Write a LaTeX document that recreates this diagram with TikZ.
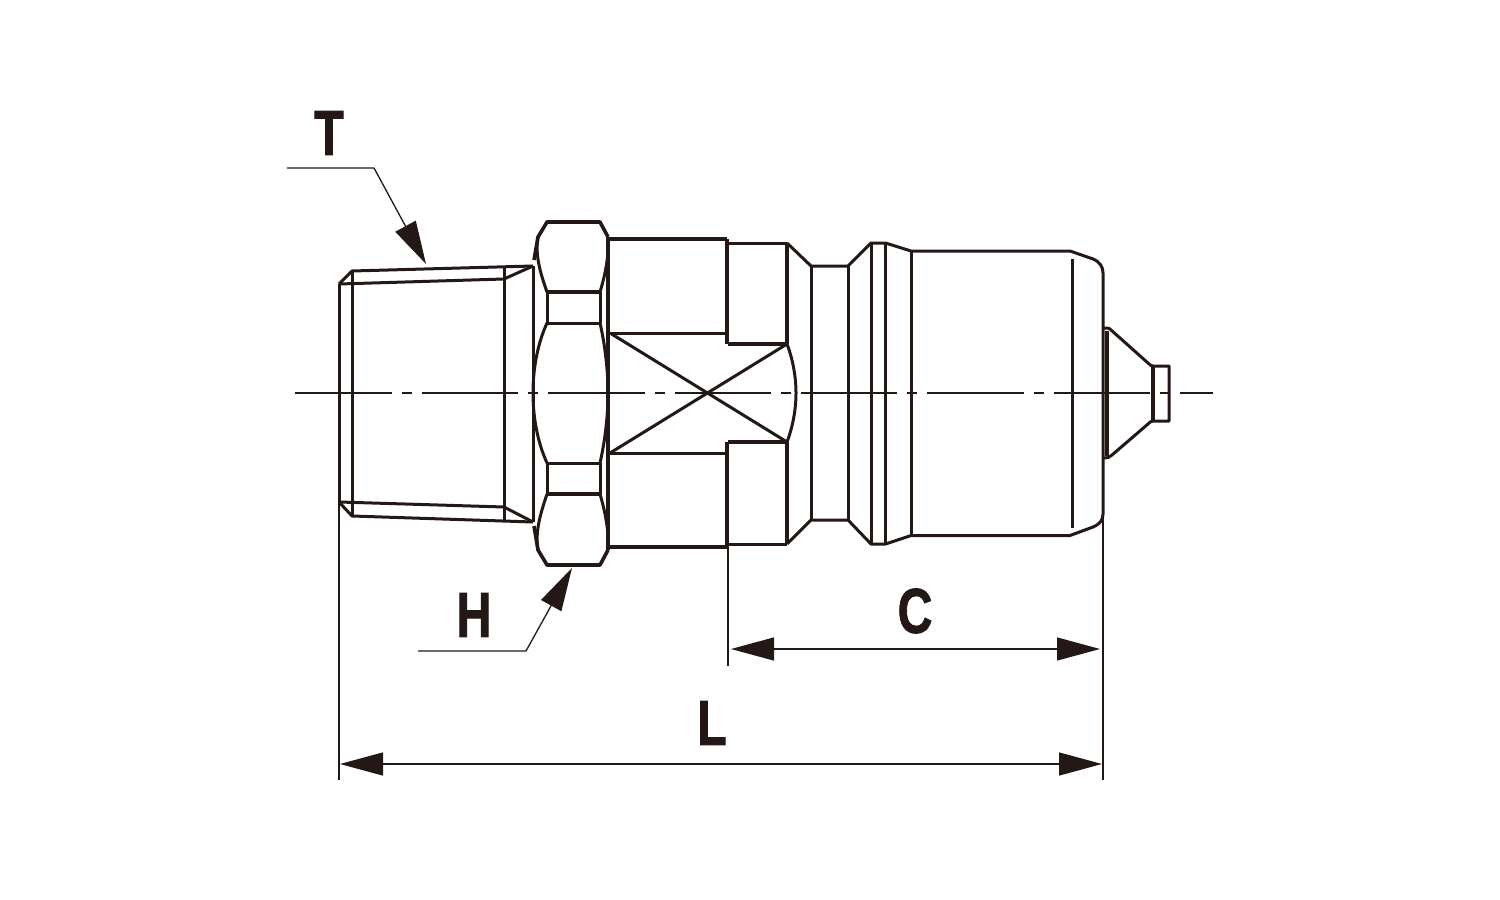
\documentclass[tikz,border=0pt]{standalone}
\usepackage{fontspec}
\setmainfont{Liberation Sans}[BoldFeatures={FakeBold=1.6}]
\usetikzlibrary{arrows.meta,positioning}
\definecolor{inkk}{HTML}{231815}
\tikzset{
  fine/.style={line width=0.3mm,line join=round},
  heavy/.style={line width=0.36mm,line join=round},
  dimline/.style={line width=0.13mm},
  dimarrow/.style={dimline,{Triangle[length=4.3mm,width=2.3mm]}-{Triangle[length=4.3mm,width=2.3mm]}},
  leader/.style={dimline,-{Triangle[length=4.3mm,width=2.3mm]}},
  axisline/.style={dimline,dash pattern=on 9.64mm off 1mm on 1mm off 1mm,dash phase=12.51mm},
  letter/.style={font=\bfseries\fontsize{18}{18}\selectfont,xscale=.76,inner sep=0pt,anchor=center}
}
\begin{document}
\begin{tikzpicture}[x=0.1mm,y=-0.1mm,color=inkk]
  \useasboundingbox (0,0) rectangle (1500,900);

  % thread
  \draw[fine] (339,284) -- (352,271) -- (533,266);
  \draw[fine] (339,284) -- (504,279) -- (533,266);
  \draw[fine] (339,502) -- (352,516) -- (533,522);
  \draw[fine] (339,502) -- (504,507) -- (533,522);
  \draw[fine] (339,284) -- (339,502);
  \draw[fine] (352,271) -- (352,516);
  \draw[fine] (504,267) -- (504,520);
  \draw[fine] (533,266) -- (533,522);

  % hexagon
  \draw[heavy] (534,260) -- (538,237) -- (547,222) -- (600,222) -- (608,237);
  \draw[heavy] (534,526) -- (538,550) -- (547,565) -- (600,565) -- (608,550);
  \draw[fine] (538,237) .. controls (535,255) and (540,272) .. (547,292);
  \draw[fine] (608,237) .. controls (609,255) and (606,272) .. (600,292);
  \draw[fine] (538,550) .. controls (535,532) and (540,515) .. (547,494);
  \draw[fine] (608,550) .. controls (609,532) and (606,515) .. (600,494);
  \draw[heavy] (547,292) -- (600,292);
  \draw[fine] (547,323) -- (600,323);
  \draw[fine] (547,463) -- (600,463);
  \draw[heavy] (547,494) -- (600,494);
  \draw[fine] (547,292) -- (547,323);
  \draw[fine] (600,292) -- (600,323);
  \draw[fine] (547,463) -- (547,494);
  \draw[fine] (600,463) -- (600,494);
  \draw[fine] (547,323) .. controls (537,345) and (533,370) .. (533,393) .. controls (533,416) and (537,441) .. (547,463);
  \draw[fine] (600,323) .. controls (605,345) and (608,370) .. (608,393) .. controls (608,416) and (605,441) .. (600,463);
  \draw[heavy] (608,237) -- (608,550);

  % body with flats
  \draw[heavy] (608,239) -- (727,239);
  \draw[heavy] (608,547) -- (727,547);
  \draw[fine] (610,333) -- (727,333);
  \draw[fine] (610,453) -- (727,453);
  \draw[line width=0.45mm] (727,239) -- (727,344);
  \draw[line width=0.45mm] (727,442) -- (727,547);
  \draw[fine] (728,243) -- (787,243);
  \draw[heavy] (728,344) -- (787,344);
  \draw[heavy] (728,442) -- (787,442);
  \draw[fine] (728,544) -- (787,544);
  \draw[heavy] (787,243) -- (787,344);
  \draw[heavy] (787,442) -- (787,544);
  \draw[fine] (610,333) -- (787,442);
  \draw[fine] (610,453) -- (787,344);
  \draw[fine] (787,344) .. controls (793,360) and (796,377) .. (796,393) .. controls (796,409) and (793,426) .. (787,442);

  % plug outline
  \draw[fine] (787,243) -- (811,266) -- (848,266) -- (871,243) -- (885.5,243) -- (911,251) -- (1070,251) -- (1093,259)
    .. controls (1100,262) and (1103,267) .. (1103,273) -- (1103,514)
    .. controls (1103,520) and (1100,524) .. (1093,527) -- (1070,535.5) -- (911,535.5) -- (885.5,544) -- (871,544) -- (848,520) -- (811,520) -- (787,544);
  \foreach \xpos/\ytop/\ybot in {811/266/520,848/266/520,871/243/544,885.5/243/544,911/251/535.5}
    \draw[fine] (\xpos,\ytop) -- (\xpos,\ybot);
  \draw[fine] (1072,259) -- (1072,528);

  % nose
  \draw[fine] (1103,328) -- (1107,328) .. controls (1109,328) and (1110,329) .. (1111,330) -- (1148,363) .. controls (1150,365) and (1151,366) .. (1153,366) -- (1169,366) -- (1169,421) -- (1153,421)
    .. controls (1151,421) and (1150,422) .. (1148,424) -- (1112,455) .. controls (1110,457) and (1108,458) .. (1103,458);
  \draw[heavy] (1107,331) -- (1107,456);
  \draw[heavy] (1153,366) -- (1153,421);

  % axis
  \coordinate (axisL) at (294,393);
  \coordinate (axisR) at (1213,393);
  \draw[axisline] (axisL) -- (axisR);

  % extension lines
  \coordinate (extL0) at (339,502);
  \coordinate (extL1) at (339,780);
  \coordinate (extC0) at (728,547);
  \coordinate (extC1) at (728,666);
  \coordinate (extR0) at (1103,514);
  \coordinate (extR1) at (1103,780);
  \draw[dimline] (extL0) -- (extL1);
  \draw[dimline] (extC0) -- (extC1);
  \draw[dimline] (extR0) -- (extR1);

  % dimensions
  \coordinate (dimC0) at (731,649);
  \coordinate (dimC1) at (1100,649);
  \coordinate (dimL0) at (340,764);
  \coordinate (dimL1) at (1102,764);
  \draw[dimarrow] (dimC0) -- (dimC1);
  \draw[dimarrow] (dimL0) -- (dimL1);
  \node[letter] (labelC) at (915,611) {C};
  \node[letter] (labelL) at (712,723) {L};

  % leaders
  \node[letter] (labelT) at (329,133) {T};
  \node[letter] (labelH) at (474,615) {H};
  \coordinate (leadT0) at (287,168);
  \coordinate (leadT1) at (374,168);
  \coordinate (tipT) at (426,264);
  \coordinate (leadH0) at (418,651);
  \coordinate (leadH1) at (526,651);
  \coordinate (tipH) at (572,568);
  \draw[leader] (leadT0) -- (leadT1) -- (tipT);
  \draw[leader] (leadH0) -- (leadH1) -- (tipH);
\end{tikzpicture}
\end{document}
